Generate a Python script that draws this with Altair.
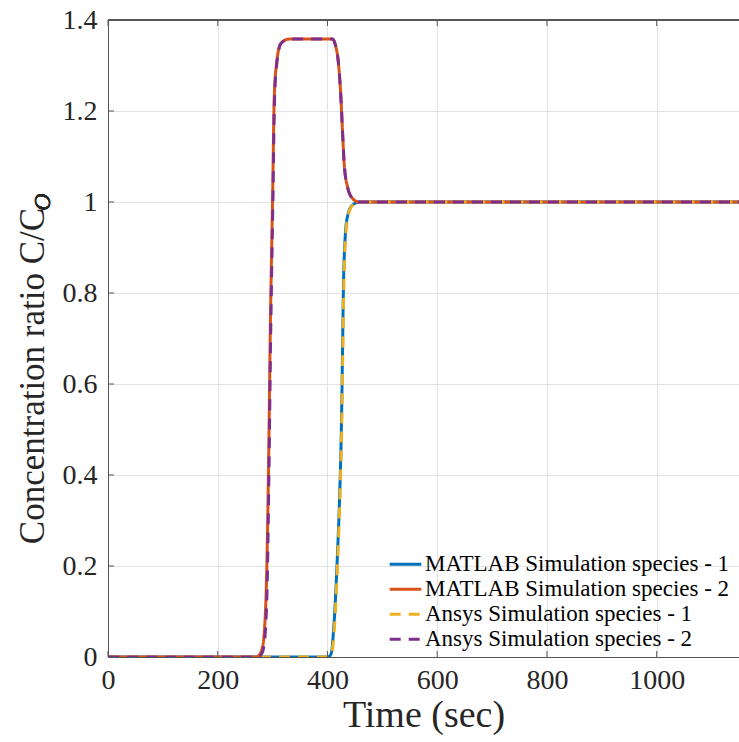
import altair as alt
import pandas as pd

# ---- data ----
t_matlab_1 = [0, 400, 406, 412, 418, 422.5, 425.5, 427.3, 429, 432, 436.4, 445.5, 457.6, 1150]
c_matlab_1 = [0, 0, 0.005, 0.074, 0.22, 0.367, 0.514, 0.66, 0.807, 0.916, 0.968, 0.993, 1.0, 1.0]

t_matlab_2 = [0, 270, 276, 281.8, 288, 292.7, 295.8, 300, 303, 307.3, 315.3, 330, 409, 415.3, 420, 424.4, 427.3, 430.4, 436.4, 445.5, 457.6, 1150]
c_matlab_2 = [0, 0, 0.005, 0.023, 0.132, 0.426, 0.719, 1.012, 1.231, 1.305, 1.349, 1.358, 1.358, 1.341, 1.305, 1.231, 1.158, 1.085, 1.034, 1.008, 1.0, 1.0]

t_ansys_1 = [0, 401, 407, 413, 418.5, 423, 426, 427.8, 429.5, 432.5, 437, 446, 458, 1150]
c_ansys_1 = [0, 0, 0.005, 0.07, 0.21, 0.36, 0.51, 0.66, 0.80, 0.912, 0.966, 0.993, 1.0, 1.0]

t_ansys_2 = [0, 273, 279, 284, 289.5, 293.5, 296.5, 300.5, 303.5, 307.5, 315.5, 330, 409, 415.3, 420, 424.4, 427.3, 430.4, 436.4, 445.5, 457.6, 1150]
c_ansys_2 = [0, 0, 0.005, 0.023, 0.13, 0.42, 0.71, 1.0, 1.225, 1.303, 1.349, 1.358, 1.358, 1.341, 1.305, 1.231, 1.158, 1.085, 1.034, 1.008, 1.0, 1.0]

series_names = ["MATLAB Simulation species - 1", "MATLAB Simulation species - 2",
                "Ansys Simulation species - 1", "Ansys Simulation species - 2"]
series_colors = ["#0072BD", "#D95319", "#EDB120", "#7E2F8E"]

x_ticks = [0, 200, 400, 600, 800, 1000]
y_ticks = [0, 0.2, 0.4, 0.6, 0.8, 1, 1.2, 1.4]

# ---- tables ----
rows = []
for name, ts, cs in zip(series_names,
                        [t_matlab_1, t_matlab_2, t_ansys_1, t_ansys_2],
                        [c_matlab_1, c_matlab_2, c_ansys_1, c_ansys_2]):
    for t, c in zip(ts, cs):
        rows.append({"time": t, "conc": c, "series": name})
df = pd.DataFrame(rows)
df_solid = df[df["series"].str.startswith("MATLAB")]
df_dash = df[df["series"].str.startswith("Ansys")]
df_xt = pd.DataFrame({"time": x_ticks})
df_yt = pd.DataFrame({"conc": y_ticks})

W, H = 631, 637
FONT = "Liberation Serif"
LABEL_FONT = "Liberation Serif, Times New Roman, serif"
TXT = "#262626"
XMAX = 1150
XT = "Time (sec)"
YT = "Concentration ratio C/C"

xscale = alt.Scale(domain=[0, XMAX], nice=False, zero=False)
yscale = alt.Scale(domain=[0, 1.4], nice=False)

common = dict(grid=True, tickSize=0, labelFont=LABEL_FONT, titleFont=FONT, labelColor=TXT,
              titleColor=TXT, titleFontWeight="normal", labelFontSize=28,
              domainColor="#555555", gridColor="#e3e3e3", gridWidth=1, domainWidth=1)

xaxis = alt.Axis(values=x_ticks, title=XT, format="d", labelPadding=9, titleFontSize=38,
                 titlePadding=2, labelFlush=False, **common)
yaxis = alt.Axis(values=y_ticks, title=YT, labelPadding=11, format=".2~f", titleFontSize=35,
                 titleX=-65, titleY=H / 2 + 37, titleAngle=270,
                 titleBaseline="alphabetic", titleAlign="center", **common)

leg = alt.Legend(orient="none", legendX=280, legendY=532, title=None,
                 symbolType="stroke", symbolSize=1000, symbolStrokeWidth=3,
                 labelFontSize=23, labelFont=FONT, labelColor="#000",
                 labelOffset=2, rowPadding=0, clipHeight=24.5, labelLimit=500)
color = alt.Color("series:N", scale=alt.Scale(domain=series_names, range=series_colors),
                  legend=leg)
dash = alt.StrokeDash("series:N",
                      scale=alt.Scale(domain=series_names,
                                      range=[[1, 0], [1, 0], [11, 8], [11, 8]]),
                      legend=leg)

X = alt.X("time:Q", scale=xscale, axis=xaxis, title=XT)
Y = alt.Y("conc:Q", scale=yscale, axis=yaxis, title=YT)

solid = alt.Chart(df_solid).mark_line(strokeWidth=3, clip=True, interpolate="monotone").encode(
    x=X, y=Y, color=color, strokeDash=dash)

dashed = alt.Chart(df_dash).mark_line(strokeWidth=3, clip=True, interpolate="monotone").encode(
    x=X, y=Y, color=color, strokeDash=dash)

tick_col = "#555555"
bottom_ticks = alt.Chart(df_xt).mark_rule(color=tick_col, strokeWidth=1).encode(
    x=X, y=alt.value(H), y2=alt.value(H - 6))
top_ticks = alt.Chart(df_xt).mark_rule(color=tick_col, strokeWidth=1).encode(
    x=X, y=alt.value(0), y2=alt.value(6))
left_ticks = alt.Chart(df_yt).mark_rule(color=tick_col, strokeWidth=1).encode(
    y=Y, x=alt.value(0), x2=alt.value(6))
top_line = alt.Chart(df_xt).mark_rule(color=tick_col, strokeWidth=1).encode(
    x=alt.value(0), x2=alt.value(W), y=alt.value(0))

sub_o = alt.Chart(df_xt).mark_text(text="O", font=FONT, fontSize=24, fontStyle="italic",
                                   angle=270, color=TXT, align="center",
                                   baseline="alphabetic").encode(
    x=alt.value(-58), y=alt.value(182))

chart = alt.layer(solid, dashed, bottom_ticks, top_ticks, left_ticks, top_line, sub_o).properties(
    width=W, height=H,
    background="white",
    autosize=alt.AutoSizeParams(type="none"),
    padding={"left": 108, "top": 20, "right": 0, "bottom": 85},
).configure(
    font=FONT,
    style={"guide-label": {"font": LABEL_FONT}, "guide-title": {"font": FONT}},
).configure_view(stroke=None).configure_axis(
    labelFont=LABEL_FONT, titleFont=FONT, titleFontWeight="normal"
).configure_text(font=FONT)

chart.save("out.html", embed_options={"renderer": "svg", "actions": False})
